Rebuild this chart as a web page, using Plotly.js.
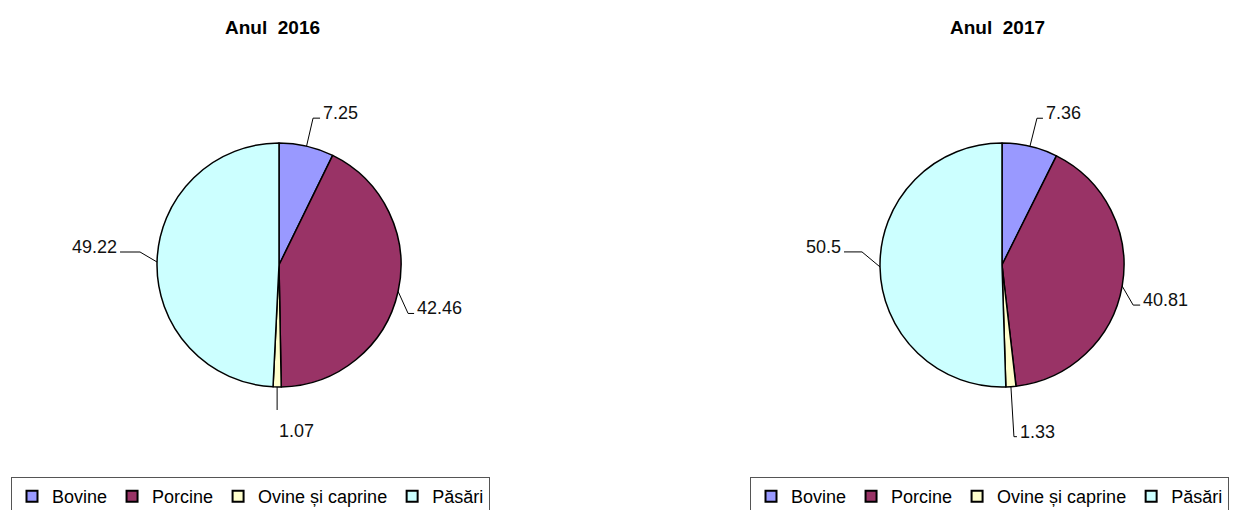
<!DOCTYPE html>
<html><head><meta charset="utf-8">
<script src="https://cdn.plot.ly/plotly-3.0.1.min.js"></script>
<style>html,body{margin:0;padding:0;background:#fff}#chart{width:1248px;height:510px}</style>
</head><body><div id="chart"></div>
<script>
const categories = ['Bovine', 'Porcine', 'Ovine și caprine', 'Păsări'];
const titles = ['Anul  2016', 'Anul  2017'];
const values2016 = [7.25, 42.46, 1.07, 49.22];
const values2017 = [7.36, 40.81, 1.33, 50.5];
const colors = ['#9999FF', '#993366', '#FFFFCC', '#CCFFFF'];

const W = 1248, H = 510;
const FONT = 'Liberation Sans, Arial, sans-serif';
const pies = [
  {values: values2016, cx: 279, cy: 265, r: 122, titleX: 272, legendX: 11, legend: 'legend'},
  {values: values2017, cx: 1002, cy: 265, r: 122, titleX: 997, legendX: 750, legend: 'legend2'}
];
// leader line styling (elbow offset from slice edge, horizontal tail)
const leaderStyle = [
  [{dx: 6.5, dy: -28, tail: 7}, {dx: 10, dy: 22, tail: 6}, {dx: 0, dy: 23, below: true}, {dx: -17, dy: -10, tail: -20}],
  [{dx: 7, dy: -28, tail: 6}, {dx: 11, dy: 19, tail: 7}, {dx: 3, dy: 50, tail: 3}, {dx: -18, dy: -15, tail: -18}]
];

const px = x => x / W, py = y => 1 - y / H;
const data = [], annotations = [], shapes = [];

pies.forEach((p, k) => {
  data.push({
    type: 'pie', labels: categories, values: p.values, sort: false,
    direction: 'clockwise', rotation: 0, textinfo: 'none', hoverinfo: 'label+value',
    marker: {colors: colors, line: {color: '#000', width: 1.5}},
    domain: {x: [px(p.cx - p.r), px(p.cx + p.r)], y: [py(p.cy + p.r), py(p.cy - p.r)]},
    showlegend: false
  });
  // legend entries for this pie
  categories.forEach((cat, i) => {
    data.push({
      type: 'scatter', mode: 'markers', x: [null], y: [null], name: cat,
      marker: {symbol: 'square', size: 11, color: colors[i], line: {color: '#000', width: 2}},
      legend: p.legend, showlegend: true, hoverinfo: 'skip'
    });
  });
  annotations.push({text: '<b>' + titles[k] + '</b>', x: px(p.titleX), y: py(27), xref: 'paper', yref: 'paper',
    showarrow: false, xanchor: 'center', yanchor: 'middle', font: {family: FONT, size: 19, color: '#000'}});
  const total = p.values.reduce((a, b) => a + b, 0);
  let cum = 0;
  p.values.forEach((v, i) => {
    const th = 2 * Math.PI * (cum + v / 2) / total;
    cum += v;
    const s = Math.sin(th), c = Math.cos(th);
    const P = [p.cx + p.r * s, p.cy - p.r * c];
    const st = leaderStyle[k][i];
    const E = [P[0] + st.dx, P[1] + st.dy];
    let path = `M${px(P[0])},${py(P[1])} L${px(E[0])},${py(E[1])}`;
    let ann;
    if (st.below) {
      ann = {x: px(E[0]), y: py(E[1] + 9), xanchor: 'left', yanchor: 'top'};
    } else {
      const T = [E[0] + st.tail, E[1]];
      path += ` L${px(T[0])},${py(T[1])}`;
      ann = {x: px(T[0] + (st.tail >= 0 ? 1 : -1)), y: py(E[1] - 5), xanchor: st.tail >= 0 ? 'left' : 'right', yanchor: 'middle'};
    }
    shapes.push({type: 'path', xref: 'paper', yref: 'paper', path: path, line: {color: '#000', width: 1}});
    annotations.push(Object.assign({text: String(v), xref: 'paper', yref: 'paper', showarrow: false,
      font: {family: FONT, size: 18, color: '#111'}}, ann));
  });
});

const legendBase = {orientation: 'h', xanchor: 'left', yanchor: 'top', y: py(477), bgcolor: '#fff',
  bordercolor: '#555', borderwidth: 1, font: {family: FONT, size: 18, color: '#000'}, traceorder: 'normal',
  itemwidth: 30, entrywidth: 0};

const layout = {
  width: W, height: H, margin: {l: 0, r: 0, t: 0, b: 0, autoexpand: false},
  paper_bgcolor: '#fff', plot_bgcolor: '#fff', showlegend: true,
  xaxis: {visible: false, domain: [0, 0.001]}, yaxis: {visible: false, domain: [0, 0.001]},
  legend: Object.assign({}, legendBase, {x: px(pies[0].legendX)}),
  legend2: Object.assign({}, legendBase, {x: px(pies[1].legendX)}),
  annotations: annotations, shapes: shapes, font: {family: FONT}
};
Plotly.newPlot('chart', data, layout, {displayModeBar: false, staticPlot: true});
</script></body></html>
